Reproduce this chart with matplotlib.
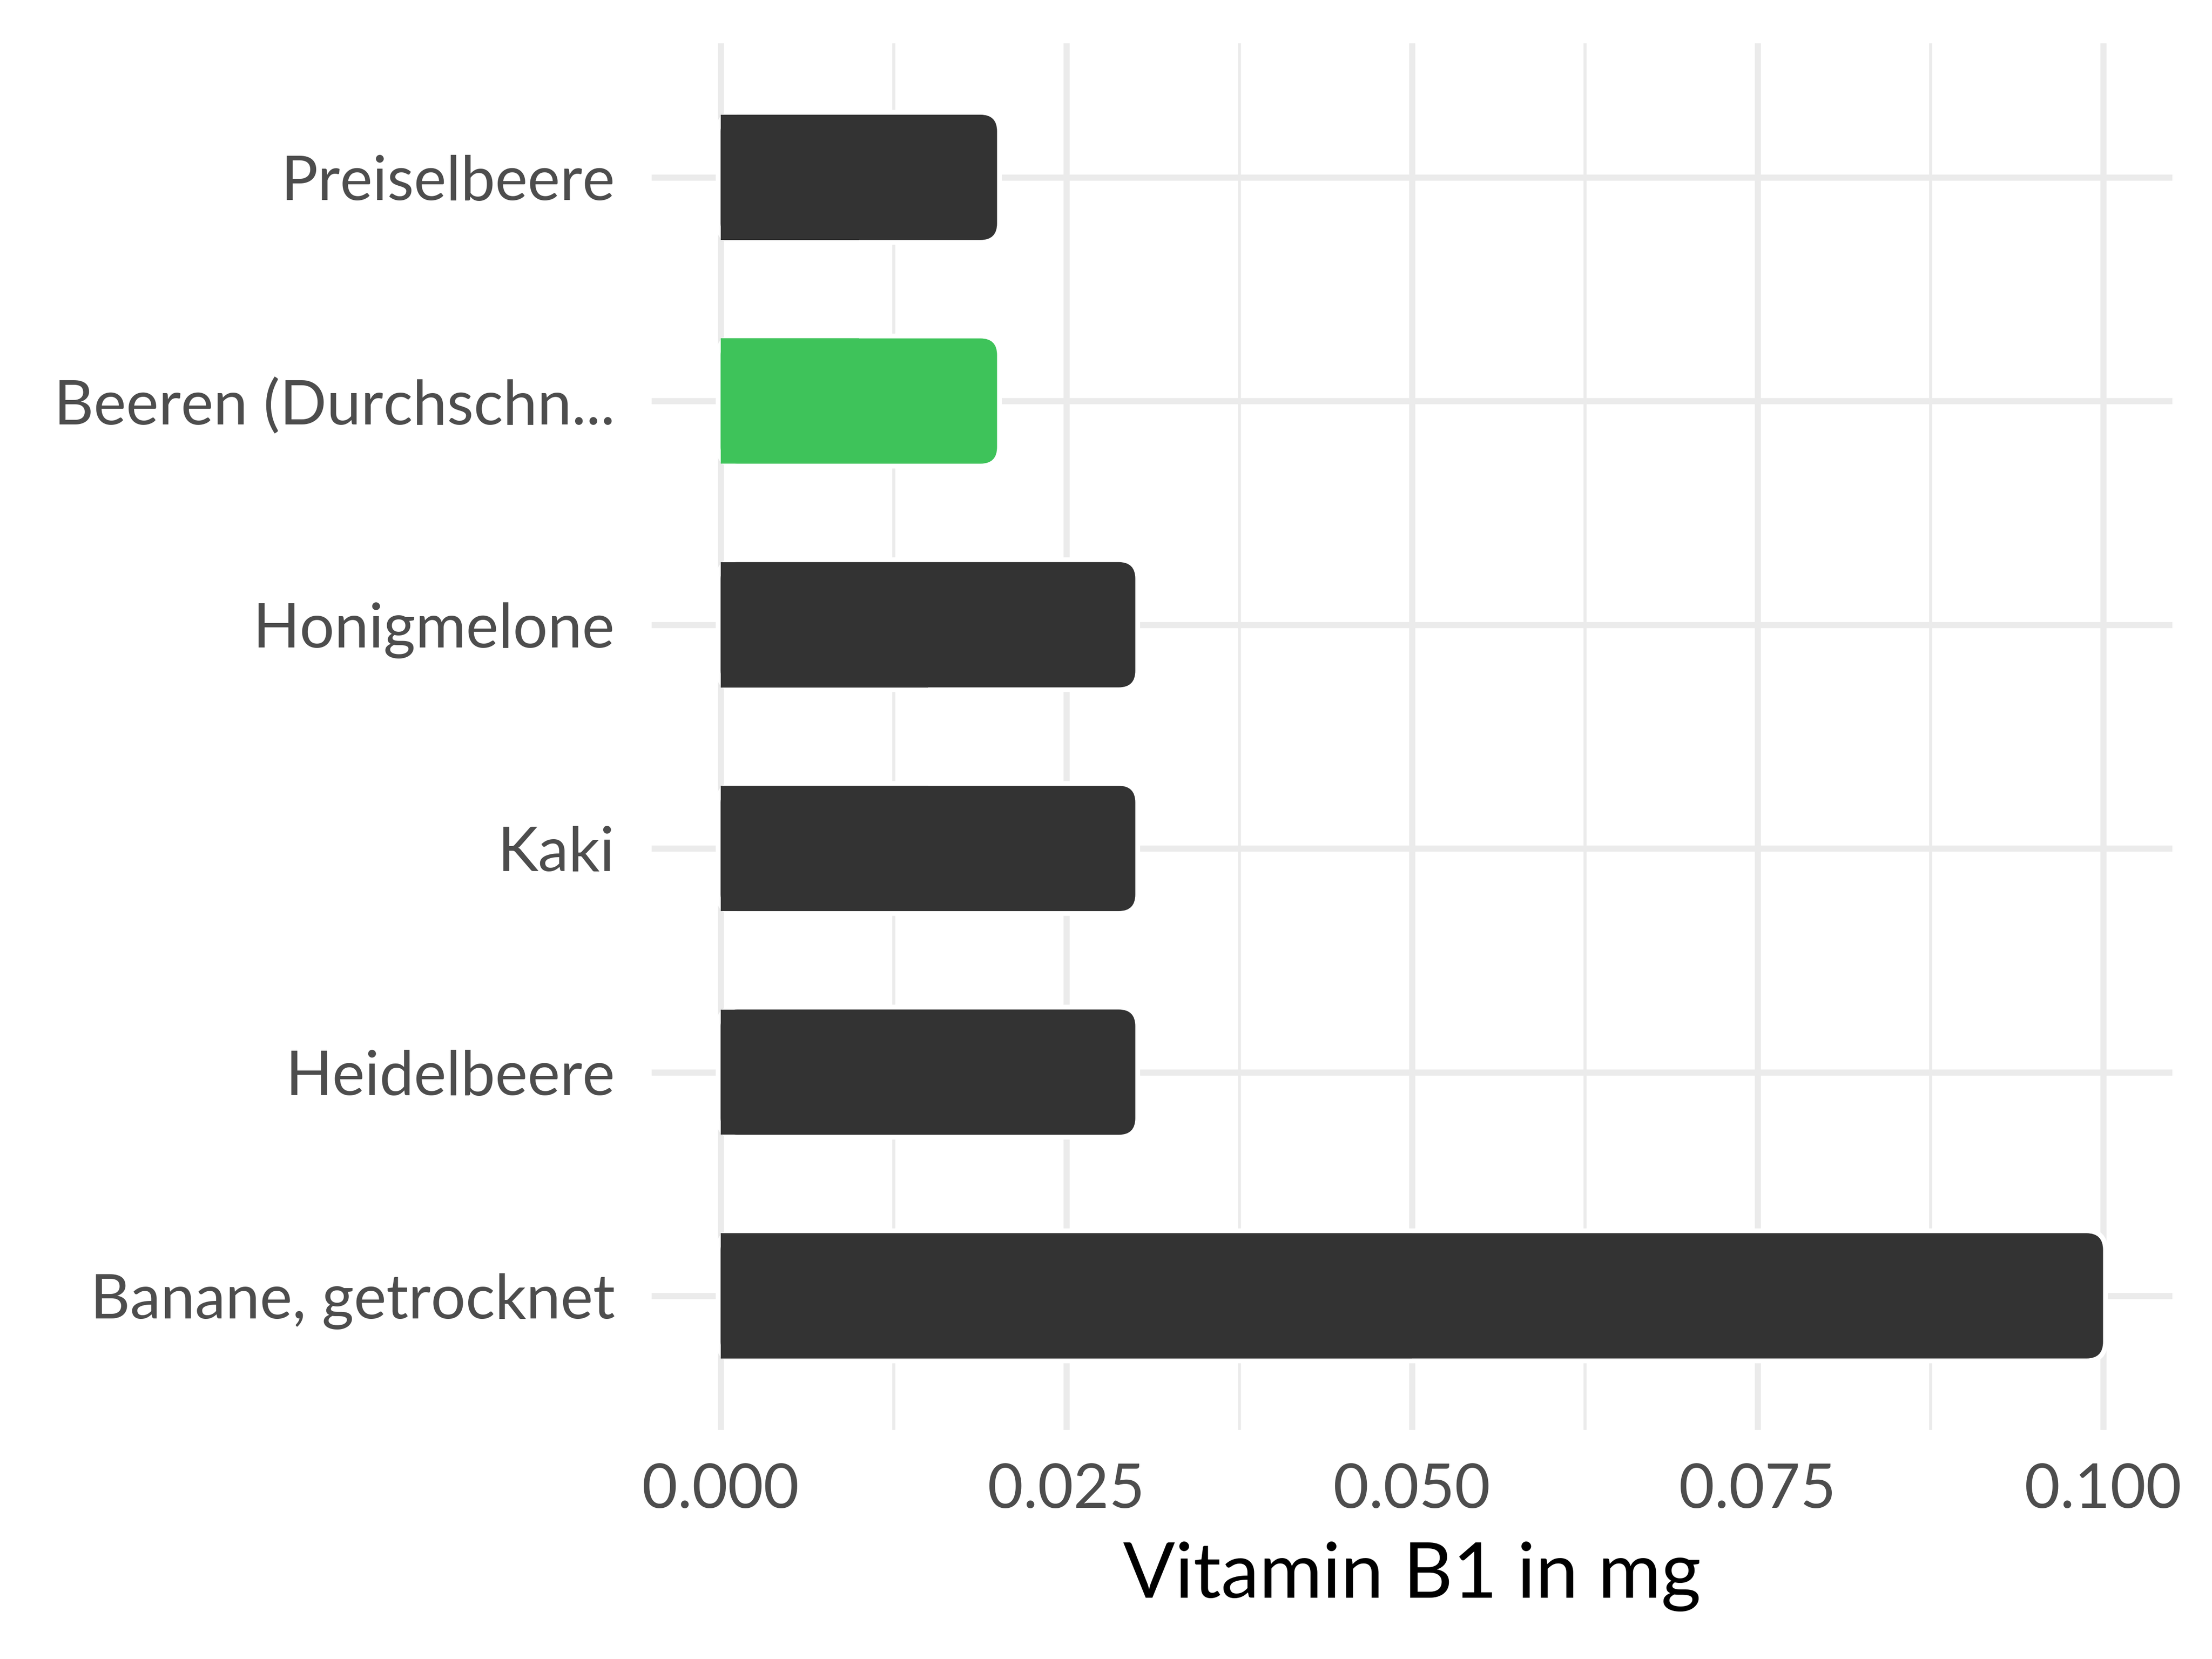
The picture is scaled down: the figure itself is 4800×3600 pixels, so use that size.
import matplotlib
matplotlib.use("Agg")
import matplotlib.pyplot as plt
from matplotlib.patches import FancyBboxPatch, Rectangle

plt.rcParams['font.family'] = ['Lato', 'DejaVu Sans']

# data, top to bottom as shown
foods = ['Preiselbeere', 'Beeren (Durchschn...', 'Honigmelone', 'Kaki',
         'Heidelbeere', 'Banane, getrocknet']
values = [0.02, 0.02, 0.03, 0.03, 0.03, 0.1]
colors = ['#333333', '#3EC35A', '#333333', '#333333', '#333333', '#333333']
xticks = [0.0, 0.025, 0.05, 0.075, 0.1]
xticklabels = ['0.000', '0.025', '0.050', '0.075', '0.100']

fig = plt.figure(figsize=(16, 12), dpi=300)
ax = fig.add_axes([0.2945, 0.138, 0.6875, 0.836])

ypos = list(range(len(foods)))[::-1]
bar_h = 0.56
ax.set_xlim(-0.005, 0.105)
ax.set_ylim(-0.6, len(foods) - 0.4)

# grid
for x in [0.0125, 0.0375, 0.0625, 0.0875]:
    ax.axvline(x, color='#EBEBEB', lw=1.6, zorder=0)
for x in xticks:
    ax.axvline(x, color='#EBEBEB', lw=3.2, zorder=0)
for y in ypos:
    ax.axhline(y, color='#EBEBEB', lw=3.2, zorder=0)

# aspect for round corners in data coords
bbox = ax.get_position()
w_in = bbox.width * 16
h_in = bbox.height * 12
xr = 0.11 / w_in
yr = (len(foods) + 0.2) / h_in
asp = yr / xr
rs = 0.0012

for y, v, c in zip(ypos, values, colors):
    box = dict(boxstyle='round,pad=0,rounding_size=%f' % rs, mutation_aspect=asp)
    # white halo behind the bar
    ax.add_patch(FancyBboxPatch((0, y - bar_h / 2), v, bar_h, fc='white',
                                ec='white', lw=5, zorder=1, **box))
    ax.add_patch(FancyBboxPatch((0, y - bar_h / 2), v, bar_h, fc=c,
                                ec='none', zorder=2, **box))
    # square left end
    ax.add_patch(Rectangle((0, y - bar_h / 2), v / 2, bar_h, fc=c, ec='none', zorder=3))

ax.set_yticks(ypos)
ax.set_yticklabels(foods)
ax.set_xticks(xticks)
ax.set_xticklabels(xticklabels)
ax.tick_params(axis='both', length=0, labelsize=32, labelcolor='#4D4D4D')
ax.tick_params(axis='y', pad=19)
ax.tick_params(axis='x', pad=17)
ax.set_xlabel('Vitamin B1 in mg', fontsize=40, color='black', labelpad=12)
for s in ax.spines.values():
    s.set_visible(False)

fig.savefig('out.png', dpi=300)
